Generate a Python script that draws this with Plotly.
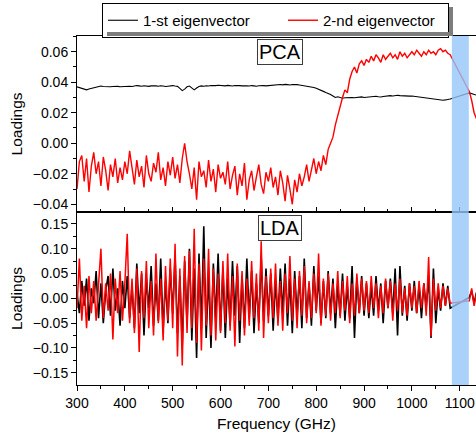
import plotly.graph_objects as go
from plotly.subplots import make_subplots

# Frequency grid (GHz): 300..1080 every 5, then points after the shaded band
freq = list(range(300, 1081, 5)) + [1120, 1125, 1130, 1135]

pca_1st = [
    0.037, 0.0365, 0.036, 0.0355, 0.035, 0.0355, 0.036, 0.0365, 0.037, 0.037, 0.0375,
    0.0372, 0.037, 0.0368, 0.037, 0.0372, 0.0375, 0.0373, 0.037, 0.0372, 0.0375,
    0.0376, 0.0374, 0.0372, 0.0375, 0.0378, 0.0376, 0.0374, 0.0377, 0.0375, 0.0373,
    0.0376, 0.0378, 0.0376, 0.0374, 0.0377, 0.0375, 0.0372, 0.0374, 0.0376, 0.0378,
    0.0375, 0.0373, 0.036, 0.0345, 0.0355, 0.037, 0.0375, 0.0365, 0.035, 0.0362,
    0.0372, 0.0376, 0.0374, 0.0377, 0.0375, 0.0378, 0.0376, 0.0378, 0.038, 0.0377,
    0.0378, 0.0376, 0.0379, 0.0377, 0.0375, 0.0378, 0.038, 0.0378, 0.0376, 0.0379,
    0.0377, 0.0375, 0.0378, 0.0376, 0.0374, 0.0377, 0.0379, 0.0378, 0.0376, 0.0378,
    0.038, 0.0382, 0.038, 0.0383, 0.0385, 0.0383, 0.0386, 0.0384, 0.0382, 0.0385,
    0.0386, 0.0384, 0.0382, 0.038, 0.0378, 0.0376, 0.0373, 0.037, 0.0366, 0.036,
    0.0355, 0.0348, 0.034, 0.0333, 0.0328, 0.032, 0.031, 0.03, 0.0305, 0.03,
    0.0295, 0.0298, 0.03, 0.0302, 0.03, 0.0298, 0.03, 0.0302, 0.0304, 0.03,
    0.0302, 0.0305, 0.0303, 0.0306, 0.0308, 0.0305, 0.0303, 0.0306, 0.0309, 0.031,
    0.0312, 0.031, 0.0313, 0.0315, 0.0312, 0.031, 0.0313, 0.0311, 0.0309, 0.031,
    0.0308, 0.0305, 0.0302, 0.03, 0.0297, 0.0295, 0.0292, 0.029, 0.0288, 0.0287,
    0.0285, 0.0283, 0.0282, 0.0284, 0.0288, 0.029,
    0.033, 0.0325, 0.032, 0.0315,
]

pca_2nd = [
    -0.030, -0.012, -0.008, -0.025, -0.010, -0.032, -0.015, -0.006, -0.020, -0.012, -0.028,
    -0.009, -0.018, -0.031, -0.014, -0.022, -0.010, -0.026, -0.016, -0.024, -0.012,
    -0.020, -0.005, -0.018, -0.027, -0.011, -0.022, -0.015, -0.029, -0.008, -0.020,
    -0.025, -0.013, -0.019, -0.006, -0.024, -0.016, -0.028, -0.012, -0.021, -0.009,
    -0.023, -0.014, -0.026, -0.010, 0.000, -0.012, -0.020, -0.030, -0.016, -0.037,
    -0.012, -0.022, -0.018, -0.029, -0.011, -0.025, -0.017, -0.032, -0.014, -0.023,
    -0.019, -0.027, -0.012, -0.030, -0.021, -0.015, -0.034, -0.020, -0.028, -0.013,
    -0.037, -0.024, -0.018, -0.031, -0.022, -0.014, -0.027, -0.033, -0.019, -0.025,
    -0.016, -0.029, -0.022, -0.034, -0.018, -0.026, -0.038, -0.021, -0.030, -0.040,
    -0.024, -0.032, -0.020, -0.028, -0.022, -0.014, -0.025, -0.017, -0.010, -0.020,
    -0.012, -0.018, -0.008, -0.014, -0.004, 0.000, 0.004, 0.012, 0.018, 0.025,
    0.030, 0.035, 0.033, 0.042, 0.047, 0.050, 0.046, 0.052, 0.054, 0.051,
    0.055, 0.053, 0.057, 0.054, 0.058, 0.056, 0.053, 0.058, 0.055, 0.057,
    0.059, 0.056, 0.058, 0.055, 0.060, 0.057, 0.059, 0.056, 0.058, 0.060,
    0.058, 0.061, 0.059, 0.057, 0.060, 0.058, 0.061, 0.059, 0.060, 0.058,
    0.061, 0.062, 0.060, 0.061, 0.059, 0.058,
    0.034, 0.028, 0.020, 0.016,
]

lda_1st = [
    0.010, -0.030, 0.035, -0.015, 0.040, -0.045, 0.020, -0.010, 0.055, -0.040, 0.030,
    -0.050, 0.015, 0.045, -0.035, 0.060, -0.025, 0.020, -0.055, 0.035, -0.020,
    0.045, -0.040, 0.025, -0.060, 0.070, -0.030, 0.050, -0.075, 0.040, -0.020,
    0.065, -0.055, 0.030, -0.045, 0.080, -0.065, 0.035, -0.050, 0.060, -0.030,
    0.085, -0.070, 0.045, -0.095, 0.075, -0.050, 0.100, -0.085, 0.060, -0.120,
    0.090, -0.060, 0.145, -0.080, 0.050, -0.100, 0.070, -0.045, 0.090, -0.065,
    0.060, -0.080, 0.040, -0.055, 0.075, -0.035, 0.065, -0.090, 0.045, -0.060,
    0.080, -0.040, 0.055, -0.070, 0.030, -0.050, 0.085, -0.045, 0.060, -0.035,
    0.050, -0.065, 0.035, -0.045, 0.060, -0.030, 0.070, -0.055, 0.040, -0.070,
    0.055, -0.035, 0.045, -0.060, 0.080, -0.040, 0.030, -0.055, 0.065, -0.025,
    0.045, -0.050, 0.035, -0.040, 0.055, -0.030, 0.040, -0.060, 0.030, -0.035,
    0.050, -0.045, 0.025, -0.040, 0.065, -0.080, 0.040, -0.030, 0.045, -0.035,
    0.030, -0.040, 0.025, -0.035, 0.045, -0.025, 0.030, -0.050, 0.035, -0.020,
    0.040, -0.030, 0.060, -0.075, 0.065, -0.035, 0.025, -0.045, 0.030, -0.025,
    0.035, -0.030, 0.025, -0.040, 0.030, -0.020, 0.045, -0.080, 0.060, -0.050,
    0.020, -0.025, 0.030, -0.015, 0.025, -0.020,
    0.002, 0.015, -0.010, 0.012,
]

lda_2nd = [
    -0.020, 0.080, -0.045, 0.025, -0.060, 0.045, -0.030, 0.035, -0.045, 0.020, 0.100,
    -0.040, 0.030, -0.025, 0.050, -0.083, 0.040, -0.030, 0.055, -0.045, 0.030,
    0.130, -0.050, 0.040, -0.070, 0.060, -0.108, 0.055, -0.040, 0.075, -0.060,
    0.035, -0.075, 0.090, -0.050, 0.040, -0.085, 0.065, -0.045, 0.080, -0.060,
    0.110, -0.117, 0.060, -0.135, 0.085, -0.070, 0.095, -0.060, 0.140, -0.090,
    0.070, -0.105, 0.080, -0.055, 0.100, -0.075, 0.060, -0.085, 0.050, -0.070,
    0.075, -0.050, 0.090, -0.065, 0.045, -0.097, 0.070, -0.045, 0.055, -0.075,
    0.040, -0.055, 0.075, -0.040, 0.050, -0.065, 0.115, -0.080, 0.045, -0.050,
    0.060, -0.040, 0.070, -0.055, 0.035, -0.065, 0.050, -0.030, 0.085, -0.045,
    0.040, -0.060, 0.055, -0.035, 0.065, -0.050, 0.035, -0.040, 0.050, -0.030,
    0.090, -0.055, 0.040, -0.035, 0.050, -0.045, 0.030, -0.030, 0.055, -0.040,
    0.035, -0.025, 0.045, -0.050, 0.030, -0.035, 0.050, -0.030, 0.040, -0.025,
    0.035, -0.030, 0.045, -0.020, 0.030, -0.040, 0.025, -0.030, 0.040, -0.020,
    0.035, -0.045, 0.030, -0.025, 0.040, -0.030, 0.020, -0.035, 0.030, -0.020,
    0.025, -0.030, 0.035, -0.020, 0.030, -0.035, 0.083, -0.077, 0.040, -0.025,
    0.030, -0.020, 0.025, -0.015, 0.020, -0.010,
    -0.005, 0.020, -0.015, 0.010,
]

band = [1083.5, 1119]
series_names = ["1-st eigenvector", "2-nd eigenvector"]
colors = ["black", "red"]

FONT = "Liberation Sans, Arial, sans-serif"
TITLE_FONT = dict(family=FONT, size=15.5, color="black")

fig = make_subplots(rows=2, cols=1, shared_xaxes=True, vertical_spacing=0)

fig.add_trace(go.Scatter(x=freq, y=pca_1st, mode="lines", name=series_names[0],
                         legendwidth=135,
                         line=dict(color=colors[0], width=1.1)), row=1, col=1)
fig.add_trace(go.Scatter(x=freq, y=pca_2nd, mode="lines", name=series_names[1],
                         legendwidth=120,
                         line=dict(color=colors[1], width=1.4)), row=1, col=1)
fig.add_trace(go.Scatter(x=freq, y=lda_1st, mode="lines", showlegend=False,
                         line=dict(color=colors[0], width=1.6)), row=2, col=1)
fig.add_trace(go.Scatter(x=freq, y=lda_2nd, mode="lines", showlegend=False,
                         line=dict(color=colors[1], width=1.5)), row=2, col=1)

axis_common = dict(showline=True, linecolor="black", linewidth=1, showgrid=False,
                   zeroline=False, tickfont=dict(family=FONT, size=14, color="black"),
                   tickcolor="black", automargin=False)

fig.update_xaxes(**axis_common)
fig.update_yaxes(**axis_common)

fig.update_layout(
    xaxis=dict(range=[300, 1134], ticks="inside", ticklen=5, dtick=100,
               showticklabels=False, mirror=True,
               minor=dict(ticks="inside", ticklen=3, dtick=50, tickcolor="black"),
               domain=[0, 1]),
    xaxis2=dict(range=[300, 1134], ticks="outside", ticklen=5, dtick=100,
                mirror=True,
                minor=dict(ticks="outside", ticklen=3, dtick=50, tickcolor="black"),
                title=dict(text="Frequency (GHz)", font=TITLE_FONT, standoff=8)),
    yaxis=dict(domain=[0.496, 1], range=[-0.045, 0.0703], ticks="outside", ticklen=5,
               tick0=0, dtick=0.02, tickformat=".2f",
               minor=dict(ticks="outside", ticklen=3, dtick=0.01, tickcolor="black"),
               title=dict(text="Loadings", font=TITLE_FONT, standoff=6)),
    yaxis2=dict(domain=[0, 0.496], range=[-0.1745, 0.174], ticks="outside", ticklen=5,
                tick0=0, dtick=0.05, tickformat=".2f",
                minor=dict(ticks="outside", ticklen=3, dtick=0.025, tickcolor="black"),
                title=dict(text="Loadings", font=TITLE_FONT, standoff=6)),
)

# shaded band across both panels
fig.add_shape(type="rect", xref="x", yref="paper", x0=band[0], x1=band[1], y0=0, y1=1,
              fillcolor="rgb(148,198,249)", opacity=0.8, line=dict(width=0), layer="above")

# legend drop shadow: two thin gray strips along the bottom and right of the legend box
PW, PH = 399, 349
for (x0, y0, w, h) in ((107, 32, 346, 4), (449, 7, 4, 29)):
    fig.add_annotation(text=" ", xref="paper", yref="paper",
                       x=(x0 - 77) / PW, y=(385 - y0) / PH,
                       xanchor="left", yanchor="top", showarrow=False,
                       width=w, height=h, borderpad=0, borderwidth=0,
                       bgcolor="rgb(125,125,125)", font=dict(size=2))

for label, yc in (("PCA", (385 - 52) / 349), ("LDA", (385 - 228) / 349)):
    fig.add_annotation(text=label, xref="paper", yref="paper", x=(280 - 77) / 399, y=yc,
                       showarrow=False, font=dict(family=FONT, size=20, color="black"),
                       bordercolor="rgb(60,60,60)", borderwidth=1, borderpad=1,
                       bgcolor="white", xanchor="center", yanchor="middle")

fig.update_layout(
    width=476, height=442,
    margin=dict(l=77, r=0, t=36, b=57, autoexpand=False),
    paper_bgcolor="white", plot_bgcolor="white",
    showlegend=True,
    legend=dict(orientation="h", x=(102 - 77) / 399, y=(385 - 3) / 349,
                xanchor="left", yanchor="top",
                bgcolor="white", bordercolor="black", borderwidth=1,
                font=dict(family=FONT, size=15, color="black"),
                tracegroupgap=0, itemwidth=30),
    font=dict(family=FONT, size=14, color="black"),
)

fig.write_html("out.html", config={"displayModeBar": False},
               post_script="document.body.style.margin='0';document.body.style.overflow='hidden';")
